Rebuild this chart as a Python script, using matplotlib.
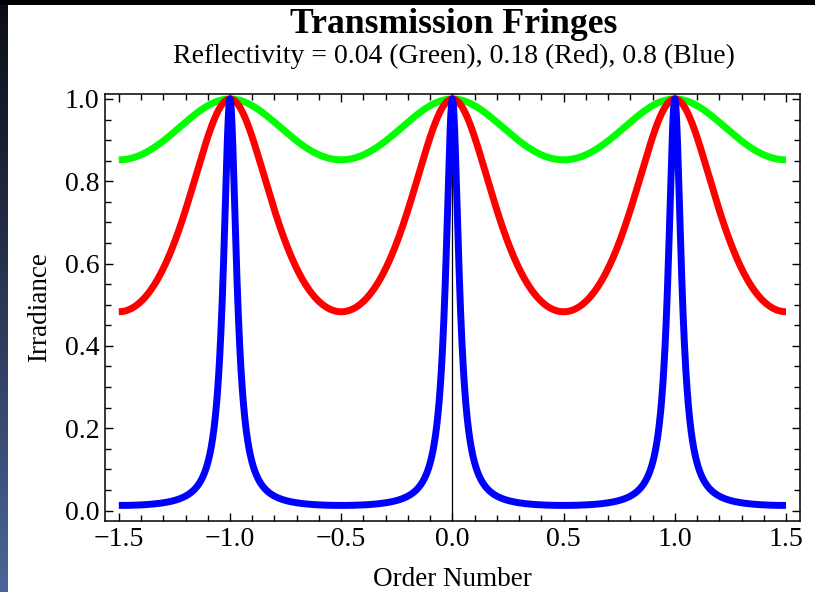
import numpy as np
import matplotlib
matplotlib.use('Agg')
import matplotlib.pyplot as plt
from matplotlib.ticker import MultipleLocator
from matplotlib.colors import LinearSegmentedColormap

# reflectivities given in the subtitle, drawn as Airy transmission curves
reflectivity = [0.04, 0.18, 0.8]
line_colors = ['#00ff00', '#ff0000', '#0000ff']
order_min, order_max = -1.5, 1.5
x_ticks = [-1.5, -1.0, -0.5, 0.0, 0.5, 1.0, 1.5]
y_ticks = [0.0, 0.2, 0.4, 0.6, 0.8, 1.0]

plt.rcParams['font.family'] = ['Liberation Serif', 'DejaVu Serif']
plt.rcParams['axes.unicode_minus'] = True

W, H = 815, 592
fig = plt.figure(figsize=(W / 100, H / 100), dpi=100)
fig.patch.set_facecolor('white')

# dark top bar and bluish gradient strip on the left edge
bar = fig.add_axes([0, 1 - 5 / H, 1, 5 / H])
bar.set_axis_off()
bar.add_patch(plt.Rectangle((0, 0), 1, 1, color='black', transform=bar.transAxes))
strip = fig.add_axes([0, 0, 7 / W, 1 - 5 / H])
grad = np.linspace(0, 1, 256).reshape(-1, 1)
cm = LinearSegmentedColormap.from_list('edge', ['#4a6698', '#2a3654', '#0c0e16'])
strip.imshow(grad, aspect='auto', cmap=cm, origin='lower')
strip.set_axis_off()

ax = fig.add_axes([105 / W, 1 - 521 / H, (800 - 105) / W, (521 - 94) / H])

m = np.linspace(order_min, order_max, 3001)
for R, c in zip(reflectivity, line_colors):
    F = 4 * R / (1 - R) ** 2
    T = 1 / (1 + F * np.sin(np.pi * m) ** 2)
    ax.plot(m, T, color=c, lw=5, solid_capstyle='butt')

ax.axvline(0, color='black', lw=0.9, zorder=0.5)

ax.set_xlim(-1.562, 1.563)
ax.set_ylim(-0.0255, 1.012)
ax.set_xticks(x_ticks)
ax.set_yticks(y_ticks)
ax.set_xticklabels(['%.1f' % v if v >= 0 else '\u2212%.1f' % -v for v in x_ticks])
ax.set_yticklabels(['%.1f' % v for v in y_ticks])
ax.xaxis.set_minor_locator(MultipleLocator(0.1))
ax.yaxis.set_minor_locator(MultipleLocator(0.05))
ax.tick_params(which='both', direction='in', top=True, right=True, width=1.0, color='black')
ax.tick_params(which='major', length=6, labelsize=20, pad=4)
ax.tick_params(which='minor', length=4)
for s in ax.spines.values():
    s.set_linewidth(1.1)

ax.set_xlabel('Order Number', fontsize=19.5, labelpad=11)
ax.set_ylabel('Irradiance', fontsize=19.5, labelpad=9)

fig.text(454 / W, 1 - 33 / H, 'Transmission Fringes', ha='center', va='baseline',
         fontsize=25.7, fontweight='bold')
fig.text(454 / W, 1 - 63 / H, 'Reflectivity = 0.04 (Green), 0.18 (Red), 0.8 (Blue)',
         ha='center', va='baseline', fontsize=20)

fig.savefig('out.png', dpi=100, facecolor=fig.get_facecolor())
